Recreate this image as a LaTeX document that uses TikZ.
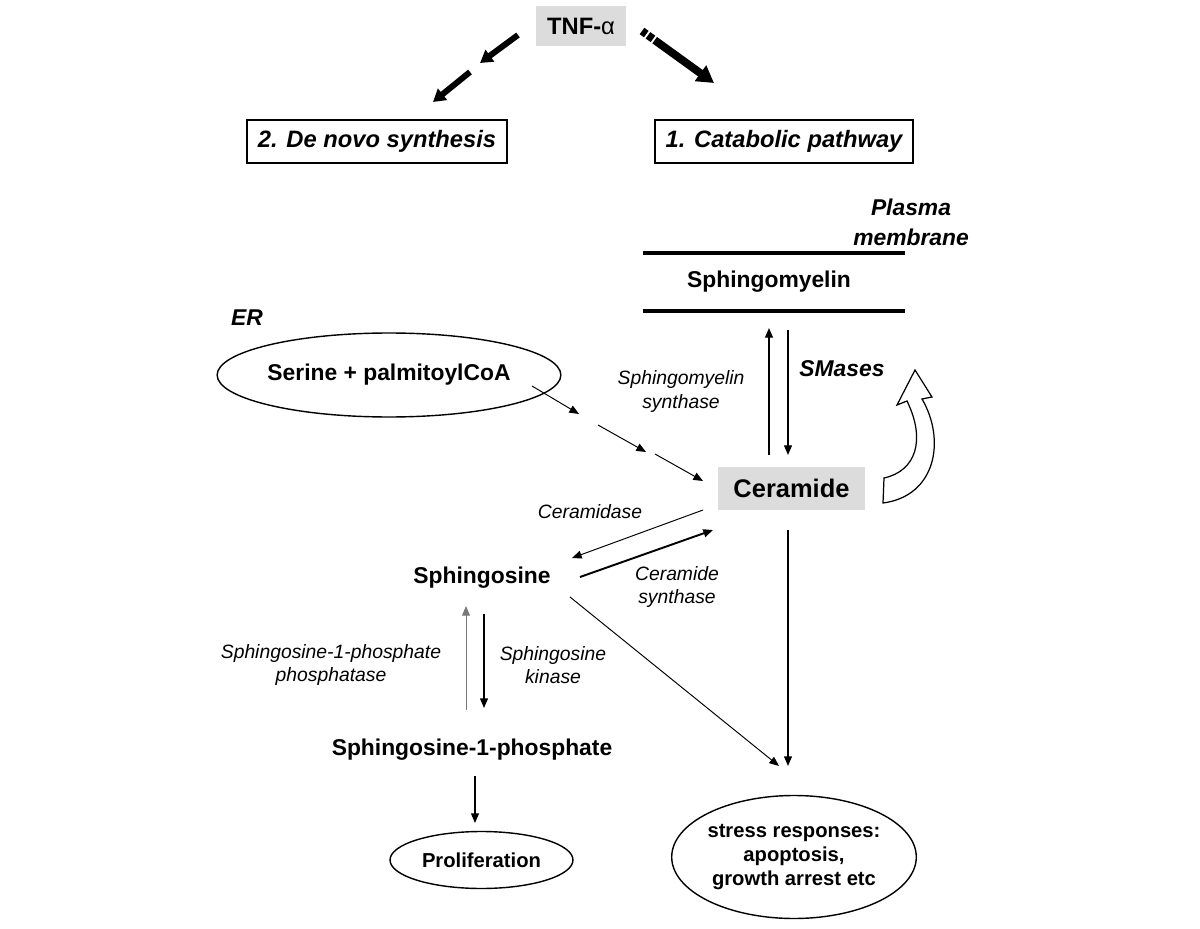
\documentclass[tikz,border=0pt]{standalone}
\usepackage{fontspec}
\setmainfont{Liberation Sans}
\usetikzlibrary{arrows.meta,shapes.geometric}
\definecolor{boxgray}{RGB}{220,220,220}
\definecolor{lgray}{RGB}{120,120,120}
\begin{document}
\begin{tikzpicture}[x=0.02cm,y=-0.02cm,
  lbl/.style={font=\fontsize{13}{15}\selectfont\bfseries, inner sep=0pt},
  bital/.style={font=\fontsize{13}{17}\selectfont\bfseries\itshape, inner sep=0pt, align=center},
  ital/.style={font=\fontsize{11}{13.1}\selectfont\itshape, align=center, inner sep=0pt},
  pathbox/.style={draw, line width=0.9pt, font=\fontsize{13.5}{16}\selectfont\bfseries\itshape,
    minimum width=5.2cm, minimum height=0.86cm, inner sep=0pt},
  graybox/.style={fill=boxgray, inner sep=0pt},
  oval/.style={ellipse, draw, line width=0.8pt, inner sep=0pt},
  arr/.style={line width=0.75pt, -{Triangle[length=5.5pt,width=4.5pt]}},
  thinarr/.style={line width=0.55pt, -{Triangle[length=5.5pt,width=4.5pt]}},
  fatarr/.style={line width=3.4pt, -{Triangle[length=7pt,width=8pt]}},
]
\useasboundingbox (0,0) rectangle (1200,929);

% TNF
\node[graybox, minimum width=1.82cm, minimum height=0.82cm,
  font=\fontsize{13.5}{16}\selectfont\bfseries] (tnf) at (581,26) {TNF-{\mdseries α}};

% pathway boxes
\node[pathbox] (denovo) at (377,141.5) {2. De novo synthesis};
\node[pathbox, minimum width=5.16cm] (catab) at (784,141.5) {1. Catabolic pathway};

% top thick arrows
\coordinate (l1s) at (518,35);
\coordinate (l1e) at (480,63);
\coordinate (l2s) at (470,72);
\coordinate (l2e) at (433,102);
\draw[fatarr] (l1s) -- (l1e);
\draw[fatarr] (l2s) -- (l2e);
\coordinate (r1s) at (642,31);
\coordinate (r1e) at (714,83);
\draw[line width=4.5pt, dash pattern=on 3pt off 1.2pt on 3.5pt off 1.2pt on 80pt,
  -{Triangle[length=9.5pt,width=10.5pt]}] (r1s) -- (r1e);

% plasma membrane
\node[bital] (plasma) at (911,222) {Plasma\\membrane};
\draw[line width=2.3pt] (643,253) -- (905,253);
\draw[line width=2.3pt] (643,311) -- (905,311);
\node[lbl] (sm) at (769,282) {Sphingomyelin};

% ER
\node[bital] (er) at (247,318) {ER};
\node[oval, minimum width=5.56cm, minimum height=1.68cm,
  font=\fontsize{13}{15}\selectfont\bfseries] (serine) at (389,375) {Serine + palmitoylCoA};

% Ceramide
\node[graybox, minimum width=2.94cm, minimum height=0.86cm,
  font=\fontsize{14.5}{17}\selectfont\bfseries] (cer) at (791.5,488.5) {Ceramide};

\node[ital] (smsyn) at (681,391.5) {Sphingomyelin\\synthase};
\node[bital] (smases) at (842,369) {SMases};

\coordinate (smsA) at (769,455);
\coordinate (smsB) at (769,328);
\draw[arr] (smsA) -- (smsB);
\coordinate (smaA) at (788,330);
\coordinate (smaB) at (788,455);
\draw[arr] (smaA) -- (smaB);

% dashed path from serine
\coordinate (d1a) at (532,386);
\coordinate (d1b) at (579,414);
\coordinate (d2a) at (598,425);
\coordinate (d2b) at (646,452);
\coordinate (d3a) at (655,454);
\coordinate (d3b) at (703,481);
\draw[thinarr] (d1a) -- (d1b);
\draw[thinarr] (d2a) -- (d2b);
\draw[thinarr] (d3a) -- (d3b);

% curved hollow arrow
\draw[line width=0.7pt, fill=white]
  (884,478) .. controls (916,471) and (926,440) .. (907,401)
  -- (897,405) -- (915,370) -- (932,397) -- (922,399)
  .. controls (946,440) and (936,496) .. (883,503) -- cycle;

% sphingosine
\node[lbl] (sph) at (482,578) {Sphingosine};
\node[ital] (cerdase) at (590,512) {Ceramidase};
\node[ital] (cersyn) at (677,587) {Ceramide\\synthase};

\coordinate (cdA) at (703,510);
\coordinate (cdB) at (572,558);
\draw[thinarr] (cdA) -- (cdB);
\coordinate (csA) at (580,577);
\coordinate (csB) at (713,530);
\draw[line width=1.1pt, -{Triangle[length=5.5pt,width=4.5pt]}] (csA) -- (csB);

% stress responses
\node[oval, minimum width=4.8cm, minimum height=2.46cm, align=center,
  font=\fontsize{11.5}{13.8}\selectfont\bfseries] (stress) at (794,857)
  {stress responses:\\apoptosis,\\growth arrest etc};
\coordinate (stA) at (570,597);
\coordinate (stB) at (779,766);
\draw[thinarr] (stA) -- (stB);
\coordinate (ctA) at (788,530);
\coordinate (ctB) at (788,766);
\draw[arr] (ctA) -- (ctB);

% S1P
\node[ital] (s1pp) at (331,665) {Sphingosine-1-phosphate\\phosphatase};
\node[ital] (sk) at (553,665) {Sphingosine\\kinase};
\coordinate (ppA) at (466,710);
\coordinate (ppB) at (466,606);
\draw[thinarr, draw=lgray] (ppA) -- (ppB);
\coordinate (skA) at (484,614);
\coordinate (skB) at (484,708);
\draw[arr] (skA) -- (skB);

\node[lbl] (s1p) at (472,750) {Sphingosine-1-phosphate};
\node[oval, minimum width=3.66cm, minimum height=1.14cm,
  font=\fontsize{11.5}{14}\selectfont\bfseries] (prolif) at (481.5,860) {Proliferation};
\coordinate (pA) at (475,776);
\coordinate (pB) at (475,823);
\draw[arr] (pA) -- (pB);

\end{tikzpicture}
\end{document}
